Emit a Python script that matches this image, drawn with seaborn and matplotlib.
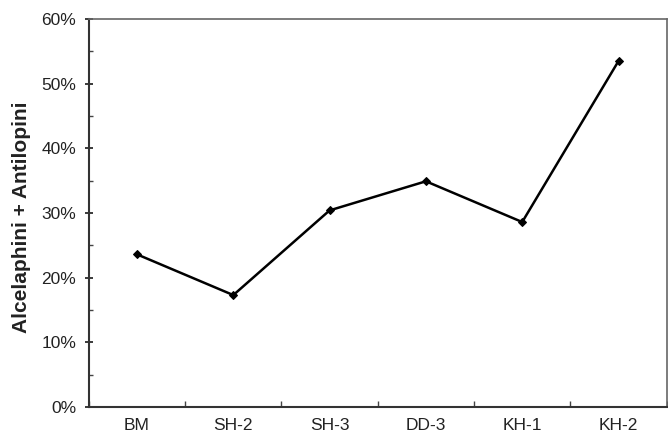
import numpy as np
import pandas as pd
import matplotlib
matplotlib.use("Agg")
import matplotlib.pyplot as plt
from matplotlib.ticker import MultipleLocator, PercentFormatter
import seaborn as sns

sns.set_theme(style="white")
plt.rcParams["font.family"] = ["Liberation Sans", "DejaVu Sans"]

sites = ["BM", "SH-2", "SH-3", "DD-3", "KH-1", "KH-2"]
share = [23.6, 17.3, 30.4, 34.9, 28.6, 53.5]

df = pd.DataFrame({"site": sites, "share": share})
df["pos"] = np.arange(len(sites))

fig = plt.figure(figsize=(6.68, 4.32), dpi=100)
ax = fig.add_axes([0.133, 0.058, 0.865, 0.898])

sns.lineplot(data=df, x="pos", y="share", ax=ax, color="black", linewidth=1.8,
             marker="D", markersize=4, markeredgecolor="black")

ax.set_xlim(-0.5, len(sites) - 0.5)
ax.set_ylim(0, 60)
ax.set_xticks(np.arange(len(sites)))
ax.set_xticklabels(sites)
ax.xaxis.set_minor_locator(MultipleLocator(1, offset=0.5))
ax.yaxis.set_major_locator(MultipleLocator(10))
ax.yaxis.set_minor_locator(MultipleLocator(5))
ax.yaxis.set_major_formatter(PercentFormatter(decimals=0))

ax.tick_params(axis="x", which="major", length=0, labelsize=12.5, pad=8,
               colors="#222222")
ax.tick_params(axis="x", which="minor", length=4, direction="in", color="#444444",
               bottom=True)
ax.tick_params(axis="y", which="major", length=6, direction="inout", labelsize=12.5,
               left=True, colors="#222222", pad=6)
ax.tick_params(axis="y", which="minor", length=3, direction="in", left=True,
               color="#444444")

ax.set_xlabel("")
ax.set_ylabel("Alcelaphini + Antilopini", fontsize=15, fontweight="bold",
              color="#222222")
ax.yaxis.set_label_coords(-0.1, 0.49)

for side in ["left", "bottom"]:
    ax.spines[side].set_color("#333333")
    ax.spines[side].set_linewidth(1.5)
for side in ["top", "right"]:
    ax.spines[side].set_color("#666666")
    ax.spines[side].set_linewidth(1.2)

fig.savefig("out.png", dpi=100, facecolor="white")
plt.close(fig)
